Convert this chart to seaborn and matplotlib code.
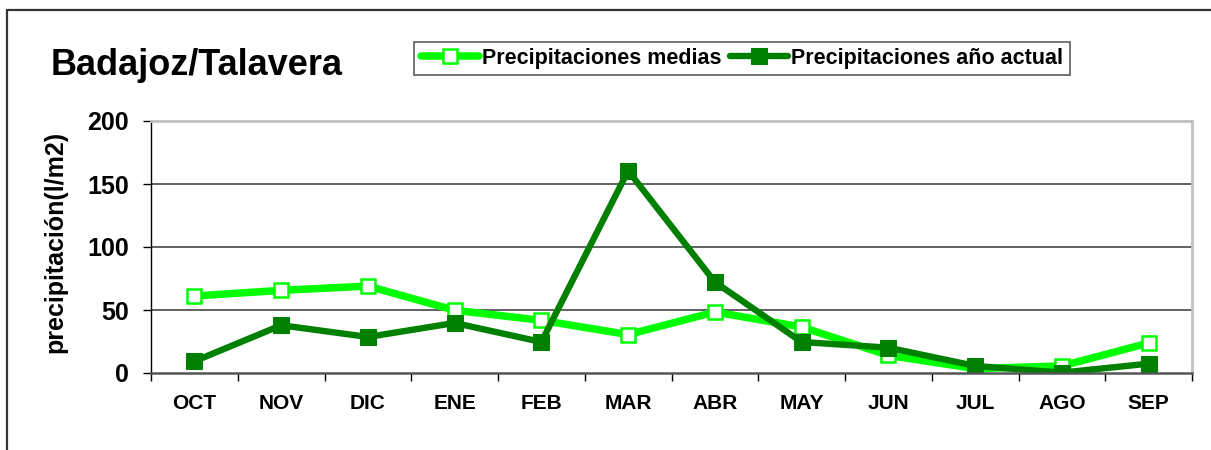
import matplotlib
matplotlib.use('Agg')
import matplotlib.pyplot as plt
import seaborn as sns
from matplotlib.lines import Line2D
from matplotlib.ticker import FixedLocator

# Datos
meses = ['OCT', 'NOV', 'DIC', 'ENE', 'FEB', 'MAR', 'ABR', 'MAY', 'JUN', 'JUL', 'AGO', 'SEP']
medias = [61.1, 65.6, 69.0, 49.8, 41.8, 30.5, 48.4, 36.5, 14.0, 3.5, 5.6, 23.8]
actual = [9.3, 37.9, 28.6, 39.7, 24.6, 160.5, 72.2, 24.6, 20.1, 5.6, 0.3, 7.4]
yticks = [0, 50, 100, 150, 200]

sns.set_style('white')
plt.rcParams['font.family'] = ['Liberation Sans', 'DejaVu Sans']
plt.rcParams['font.weight'] = 'bold'
plt.rcParams['text.color'] = 'black'
plt.rcParams['xtick.color'] = 'black'
plt.rcParams['ytick.color'] = 'black'

W, H = 1211, 450
fig = plt.figure(figsize=(W / 100, H / 100), dpi=100)
ax = fig.add_axes([151 / W, 1 - 373 / H, (1192 - 151) / W, (373 - 121) / H])

verde_claro = '#00ff00'
verde_oscuro = '#008000'

sns.lineplot(x=meses, y=medias, ax=ax, color=verde_claro, linewidth=5.4,
             marker='s', markersize=9.5, markerfacecolor='white',
             markeredgecolor=verde_claro, markeredgewidth=1.8,
             label='Precipitaciones medias', legend=False)
sns.lineplot(x=meses, y=actual, ax=ax, color=verde_oscuro, linewidth=4.6,
             marker='s', markersize=11, markerfacecolor=verde_oscuro,
             markeredgecolor=verde_oscuro,
             label='Precipitaciones año actual', legend=False)

ax.set_xlim(-0.5, len(meses) - 0.5)
ax.set_ylim(0, 200)
ax.set_yticks(yticks)
ax.set_xlabel('')
ax.set_ylabel('')

# grid horizontal
for v in yticks[1:-1]:
    ax.axhline(v, color='#555555', linewidth=1.3, zorder=0)

# ticks
ax.tick_params(axis='y', which='major', direction='out', length=6, width=1,
               color='black', pad=10, labelsize=18, labelcolor='black', left=True)
ax.tick_params(axis='x', which='major', length=0, pad=15, labelsize=15,
               labelcolor='black')
ax.xaxis.set_minor_locator(FixedLocator([i - 0.5 for i in range(len(meses) + 1)]))
ax.tick_params(axis='x', which='minor', direction='out', length=6, width=1,
               color='black', bottom=True)
for lab in ax.get_xticklabels() + ax.get_yticklabels():
    lab.set_fontweight('bold')

# bordes
ax.spines['left'].set_color('black')
ax.spines['left'].set_linewidth(1.0)
ax.spines['bottom'].set_color('#555555')
ax.spines['bottom'].set_linewidth(1.8)
for s in ['top', 'right']:
    ax.spines[s].set_color('#c0c0c0')
    ax.spines[s].set_linewidth(2)

# titulo y etiqueta
fig.text(51 / W, 1 - 75 / H, 'Badajoz/Talavera', fontsize=26, fontweight='bold',
         color='black', ha='left', va='baseline')
fig.text(55 / W, 1 - 242 / H, 'precipitación(l/m2)', fontsize=18, fontweight='bold',
         color='black', rotation=90, ha='center', va='center')

# leyenda
leg = fig.legend(loc='center', bbox_to_anchor=(742 / W, 1 - 58.5 / H), ncol=2,
                 frameon=True, fancybox=False, shadow=False,
                 handlelength=2.7, handletextpad=0.15, columnspacing=0.4,
                 borderpad=0.3, borderaxespad=0, prop={'weight': 'bold', 'size': 15.5})
leg.get_frame().set_edgecolor('#333333')
leg.get_frame().set_linewidth(1.2)
for t in leg.get_texts():
    t.set_color('black')

# marco de la figura
fig.add_artist(Line2D([7 / W, 7 / W], [0, 1 - 9.5 / H], transform=fig.transFigure,
                      color='#333333', linewidth=1.6))
fig.add_artist(Line2D([7 / W, 1], [1 - 9.5 / H, 1 - 9.5 / H], transform=fig.transFigure,
                      color='#333333', linewidth=1.6))

plt.savefig('out.png', dpi=100)
